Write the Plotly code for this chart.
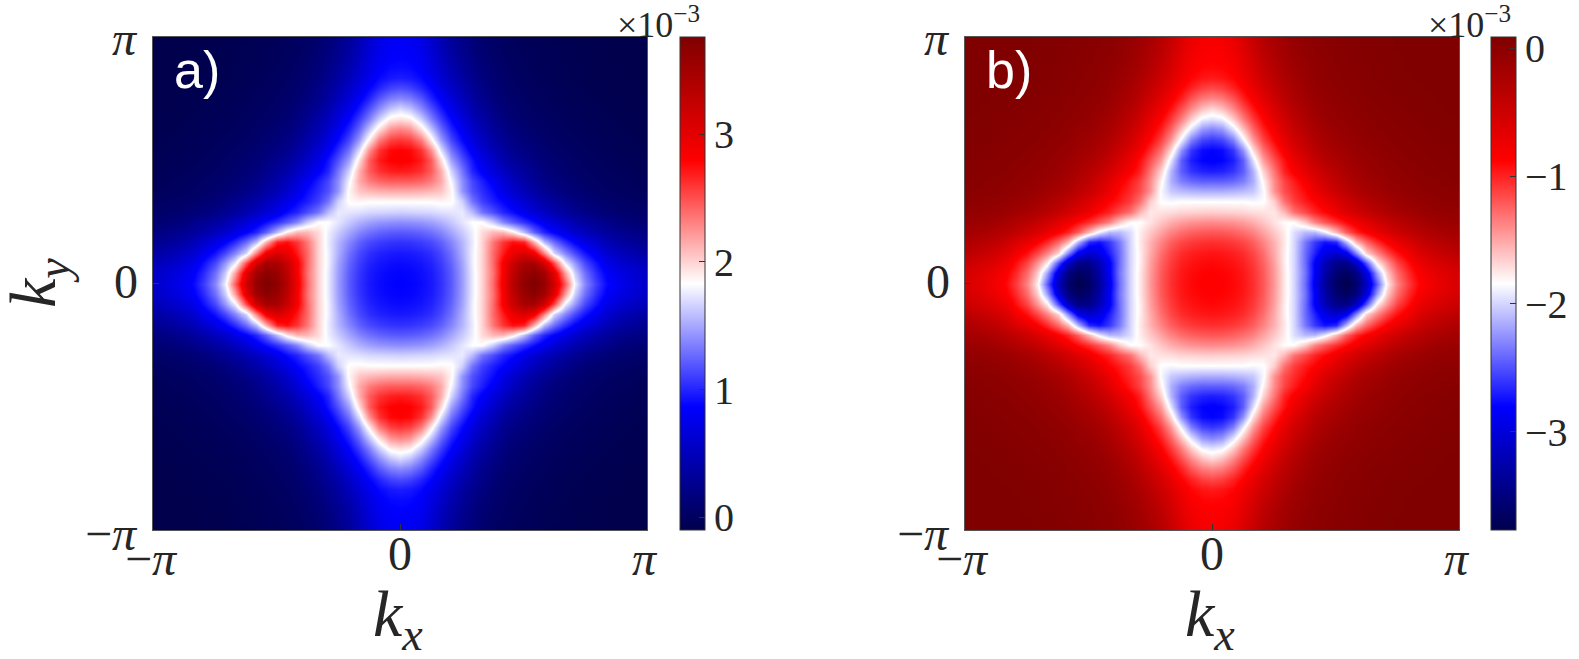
import numpy as np
import plotly.graph_objects as go

W, H = 1579, 659
# Upper-right quadrant of panel a, in units of 1e-3 (rows: |ky| from 0 to pi, columns: |kx| from 0 to pi)
row00 = [.91,.92,.95,1.00,1.10,1.25,1.50,1.80,2.05,2.45,2.95,3.40,3.70,3.82,3.65,3.20,2.50,1.82,1.42,1.15,.95,.85,.76,.68,.62]
row01 = [.92,.93,.96,1.01,1.11,1.26,1.51,1.80,2.05,2.42,2.90,3.35,3.62,3.72,3.55,3.05,2.25,1.68,1.33,1.08,.90,.80,.72,.65,.60]
row02 = [.95,.96,.99,1.04,1.14,1.29,1.53,1.82,2.05,2.45,2.90,3.25,3.50,3.52,3.20,2.55,1.82,1.48,1.18,.98,.80,.70,.63,.57,.52]
row03 = [1.00,1.01,1.04,1.09,1.19,1.34,1.57,1.82,2.05,2.45,2.75,3.00,3.12,2.95,2.35,1.72,1.42,1.18,.98,.83,.67,.58,.51,.45,.40]
row04 = [1.10,1.11,1.14,1.19,1.28,1.42,1.60,1.80,2.05,2.40,2.65,2.80,2.72,2.18,1.62,1.32,1.08,.90,.76,.65,.53,.45,.39,.34,.30]
row05 = [1.25,1.26,1.29,1.34,1.42,1.54,1.68,1.82,2.02,2.15,2.15,1.95,1.62,1.28,1.05,.90,.76,.64,.55,.45,.38,.32,.28,.25,.22]
row06 = [1.45,1.46,1.48,1.52,1.58,1.67,1.78,1.88,1.88,1.68,1.42,1.25,1.10,.96,.82,.70,.58,.48,.40,.34,.28,.23,.19,.17,.15]
row07 = [1.70,1.71,1.72,1.73,1.76,1.78,1.80,1.62,1.35,1.20,1.05,.95,.80,.68,.58,.48,.39,.32,.26,.21,.17,.14,.12,.11,.10]
row08 = [1.90,1.90,1.90,1.90,1.92,1.90,1.70,1.35,1.15,1.02,.92,.78,.66,.54,.44,.36,.29,.23,.18,.15,.12,.10,.08,.07,.06]
row09 = [2.20,2.20,2.18,2.15,2.10,1.92,1.48,1.22,1.08,.95,.78,.64,.52,.42,.33,.26,.21,.16,.13,.10,.08,.06,.05,.04,.03]
row10 = [2.50,2.50,2.46,2.38,2.20,1.85,1.45,1.18,1.02,.86,.70,.56,.44,.35,.27,.21,.17,.13,.10,.08,.06,.05,.04,.02,.01]
row11 = [2.75,2.73,2.66,2.50,2.18,1.72,1.36,1.05,.88,.72,.58,.46,.37,.29,.22,.17,.13,.10,.08,.06,.04,.03,.02,.01,.00]
row12 = [2.88,2.85,2.75,2.50,2.00,1.52,1.22,.98,.78,.62,.47,.37,.30,.23,.18,.14,.11,.08,.06,.04,.03,.02,.01,.00,-.01]
row13 = [2.85,2.82,2.66,2.30,1.75,1.35,1.08,.85,.67,.52,.39,.30,.24,.19,.14,.11,.08,.06,.04,.03,.02,.01,.00,-.01,-.02]
row14 = [2.65,2.60,2.38,1.95,1.50,1.18,.94,.74,.57,.44,.32,.25,.19,.15,.11,.08,.06,.04,.03,.02,.01,.00,-.01,-.02,-.03]
row15 = [2.35,2.28,2.00,1.65,1.30,1.04,.83,.64,.49,.37,.27,.20,.15,.12,.09,.06,.04,.03,.02,.01,.00,-.01,-.02,-.03,-.03]
row16 = [2.00,1.95,1.70,1.40,1.14,.92,.73,.56,.42,.31,.22,.16,.12,.09,.07,.05,.03,.02,.01,.00,-.01,-.02,-.03,-.03,-.04]
row17 = [1.75,1.66,1.45,1.22,1.00,.81,.64,.48,.36,.26,.18,.13,.10,.07,.05,.03,.02,.01,.00,-.01,-.02,-.03,-.03,-.04,-.04]
row18 = [1.45,1.40,1.25,1.05,.88,.71,.55,.41,.30,.22,.15,.11,.08,.05,.04,.02,.01,.00,-.01,-.02,-.03,-.03,-.04,-.04,-.05]
row19 = [1.20,1.16,1.05,.92,.76,.61,.47,.35,.26,.18,.12,.09,.06,.04,.03,.01,.00,-.01,-.02,-.03,-.03,-.04,-.04,-.05,-.05]
row20 = [1.02,1.00,.94,.82,.68,.54,.41,.30,.22,.15,.10,.07,.05,.03,.02,.00,-.01,-.02,-.03,-.03,-.04,-.04,-.05,-.05,-.05]
row21 = [.95,.94,.88,.76,.62,.48,.36,.26,.19,.13,.09,.06,.04,.02,.01,.00,-.01,-.02,-.03,-.04,-.04,-.05,-.05,-.05,-.05]
row22 = [.92,.90,.84,.72,.57,.43,.32,.23,.16,.11,.07,.05,.03,.02,.00,-.01,-.02,-.03,-.03,-.04,-.05,-.05,-.05,-.05,-.06]
row23 = [.89,.87,.80,.68,.53,.39,.29,.20,.14,.09,.06,.04,.02,.01,.00,-.01,-.02,-.03,-.04,-.04,-.05,-.05,-.05,-.06,-.06]
row24 = [.86,.84,.76,.64,.49,.36,.26,.18,.12,.08,.05,.03,.01,.00,-.01,-.02,-.03,-.03,-.04,-.05,-.05,-.05,-.06,-.06,-.06]
quadrant = np.array([row00,row01,row02,row03,row04,row05,row06,row07,row08,row09,row10,row11,row12,
                     row13,row14,row15,row16,row17,row18,row19,row20,row21,row22,row23,row24]) - 0.05

range_a = [-0.10, 3.76]
range_b = [-3.77, 0.09]
ticks_a = [0, 1, 2, 3]
ticks_b = [0, -1, -2, -3]
ticklabels_a = ["0", "1", "2", "3"]
ticklabels_b = ["0", "\u22121", "\u22122", "\u22123"]
k_ticks = [-np.pi, 0, np.pi]
k_labels = ["\u2212<i>\u03c0</i>", "0", "<i>\u03c0</i>"]

# the map is mirror-symmetric in kx and ky
top = np.hstack([quadrant[:, :0:-1], quadrant])
z_a = np.vstack([top[:0:-1], top])
z_b = -z_a
k = np.linspace(-np.pi, np.pi, z_a.shape[0])

seismic = [[0, "rgb(0,0,77)"], [.25, "rgb(0,0,255)"], [.5, "rgb(255,255,255)"],
           [.75, "rgb(255,0,0)"], [1, "rgb(128,0,0)"]]

SERIF = "Liberation Serif"
INK = "#262626"
TOP, BOT = 37, 530
PA = (153, 647); PB = (965, 1459)
CA, CB = 680, 1491
px = lambda x: x / W
py = lambda y: 1 - y / H

def cbar(x, tv, tt):
    return dict(x=px(x), xanchor="left", xpad=0, ypad=0, y=py(BOT), yanchor="bottom",
                lenmode="fraction", len=(BOT - TOP) / H, thickness=25, thicknessmode="pixels",
                outlinewidth=1, outlinecolor="#333333", tickmode="array", tickvals=tv, ticktext=tt,
                ticks="inside", ticklen=6, tickcolor="#333333", tickwidth=1,
                tickfont=dict(family=SERIF, size=40, color=INK))

fig = go.Figure()
fig.add_trace(go.Heatmap(x=k, y=k, z=z_a, colorscale=seismic, zmin=range_a[0], zmax=range_a[1],
                         zsmooth="best", xaxis="x", yaxis="y", colorbar=cbar(CA, ticks_a, ticklabels_a)))
fig.add_trace(go.Heatmap(x=k, y=k, z=z_b, colorscale=seismic, zmin=range_b[0], zmax=range_b[1],
                         zsmooth="best", xaxis="x2", yaxis="y2", colorbar=cbar(CB, ticks_b, ticklabels_b)))

def xax(dom):
    return dict(domain=[px(dom[0]), px(dom[1])], range=[-np.pi, np.pi], tickmode="array",
                tickvals=k_ticks, showticklabels=False, ticks="inside", ticklen=6, tickcolor="#333333",
                showline=True, linecolor="#555555",
                linewidth=1, mirror=True, showgrid=False, zeroline=False)

def yax():
    return dict(domain=[py(BOT), py(TOP)], range=[-np.pi, np.pi], tickmode="array", tickvals=k_ticks,
                showticklabels=False, ticks="inside", ticklen=6, tickcolor="#333333", showline=True,
                linecolor="#555555", linewidth=1, mirror=True, showgrid=False, zeroline=False)

xa = xax(PA); xa["anchor"] = "y"
xb = xax(PB); xb["anchor"] = "y2"
ya = yax(); ya["anchor"] = "x"
yb = yax(); yb["anchor"] = "x2"

notes = []
def note(x, y, text, size, xanchor="center", yanchor="middle", color=INK, family=SERIF, angle=0):
    notes.append(dict(x=px(x), y=py(y), xref="paper", yref="paper", text=text, showarrow=False,
                      xanchor=xanchor, yanchor=yanchor, textangle=angle,
                      font=dict(family=family, size=size, color=color)))

for left, cb in ((PA[0], CA), (PB[0], CB)):
    note(left - 13, 38, k_labels[2], 48, "right")
    note(left - 13, 281, k_labels[1], 48, "right")
    note(left - 13, 533, k_labels[0], 48, "right")
    note(left - 2, 558, k_labels[0], 48)
    note(left + 247, 553, k_labels[1], 48)
    note(left + 492, 558, k_labels[2], 48)
    note(left + 245, 618, "<i>k</i><sub><i>x</i></sub>", 66)
    note(cb + 22, 23, "\u00d710<sup>\u22123</sup>", 36, "right")
note(37, 283, "<i>k</i><sub><i>y</i></sub>", 66, angle=-90)
note(172, 70, "a)", 52, "left", color="white", family="Liberation Sans")
note(984, 70, "b)", 52, "left", color="white", family="Liberation Sans")

fig.update_layout(width=W, height=H, margin=dict(l=0, r=0, t=0, b=0, autoexpand=False), paper_bgcolor="white",
                  plot_bgcolor="white", showlegend=False, xaxis=xa, yaxis=ya, xaxis2=xb, yaxis2=yb,
                  annotations=notes)
fig.write_html("out.html", config={"displayModeBar": False},
               post_script="document.body.style.margin='0';document.body.style.overflow='hidden';")
